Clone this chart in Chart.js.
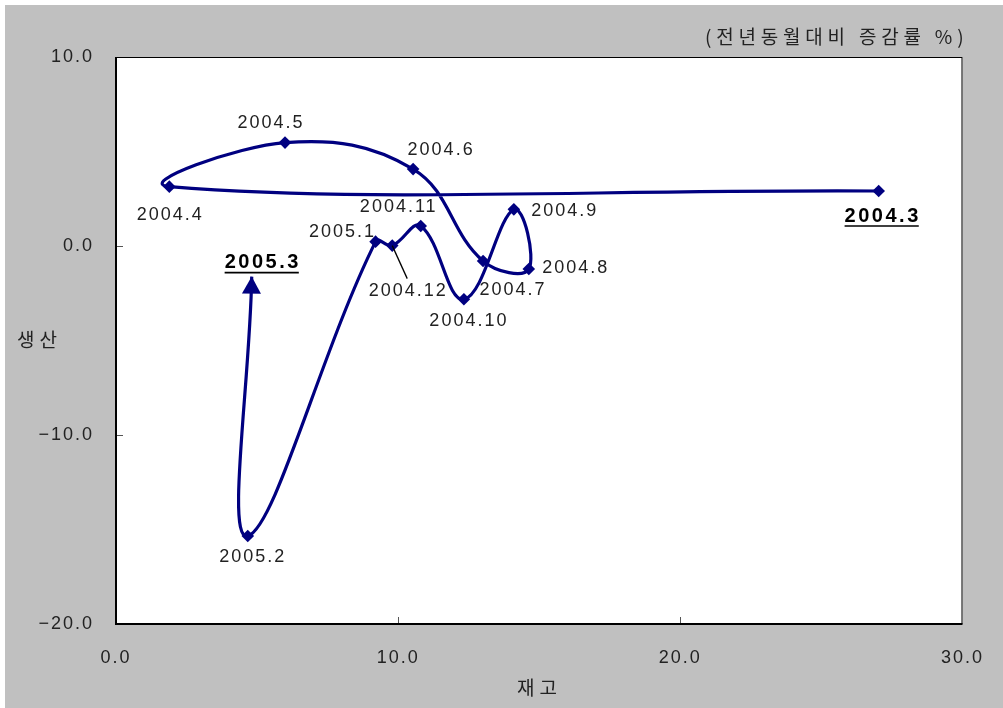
<!DOCTYPE html>
<html><head><meta charset="utf-8">
<script src="https://cdn.jsdelivr.net/npm/chart.js@4"></script>
<style>html,body{margin:0;padding:0;background:#fff}canvas{display:block}</style>
</head><body>
<canvas id="c" width="1003" height="708"></canvas>
<script>
// ---- data ----
const months     = ['2004.3','2004.4','2004.5','2004.6','2004.7','2004.8','2004.9','2004.10','2004.11','2004.12','2005.1','2005.2','2005.3'];
const inventory  = [27.03, 1.89, 5.99, 10.53, 13.01, 14.63, 14.10, 12.33, 10.80, 9.79, 9.20, 4.67, 4.81];
const production = [2.91, 3.14, 5.47, 4.07, -0.79, -1.22, 1.94, -2.82, 1.06, 0.02, 0.23, -15.34, -1.62];
const xTickValues = [0, 10, 20, 30];
const yTickValues = [-20, -10, 0, 10];
const xTitle = '재고';
const yTitle = '생산';
const unitNote = '(전년동월대비 증감률 %)';

// ---- styles ----
const NAVY = '#000080';
const LS = '2px';
const NUM_FONT = '18px "Liberation Sans", Arial, sans-serif';
const BOLD_FONT = 'bold 20px "Liberation Sans", Arial, sans-serif';
const KR_FONT = '19px "Noto Sans CJK KR", sans-serif';
// label offsets relative to each point (dx, dy of text centre)
const labelStyle = {
  '2004.3': {dx: 3, dy: 25, bold: true},
  '2004.4': {dx: 0, dy: 28},
  '2004.5': {dx: -15, dy: -20},
  '2004.6': {dx: 27, dy: -19},
  '2004.7': {dx: 29, dy: 29},
  '2004.8': {dx: 46, dy: -1},
  '2004.9': {dx: 50, dy: 2},
  '2004.10': {dx: 4, dy: 22},
  '2004.11': {dx: -23, dy: -19},
  '2004.12': {dx: 15, dy: 45, leader: true},
  '2005.1': {dx: -34, dy: -10},
  '2005.2': {dx: 4, dy: 21},
  '2005.3': {dx: 10, dy: -14, bold: true}
};

const points = months.map((m, i) => ({x: inventory[i], y: production[i]}));

const bgPlugin = {
  id: 'bg',
  beforeDraw(chart) {
    const ctx = chart.ctx;
    const {left, top, right, bottom} = chart.chartArea;
    ctx.save();
    ctx.fillStyle = '#fff';
    ctx.fillRect(0, 0, chart.width, chart.height);
    ctx.fillStyle = '#c0c0c0';
    ctx.fillRect(5, 5, chart.width - 5, chart.height - 5);
    ctx.fillStyle = '#fff';
    ctx.fillRect(left, top, right - left, bottom - top);
    ctx.restore();
    ctx.letterSpacing = LS;
  },
  afterDatasetsDraw(chart) {
    const ctx = chart.ctx;
    const meta = chart.getDatasetMeta(0);
    const pts = meta.data;
    // arrow at the last point
    const last = pts[pts.length - 1];
    const prev = pts[pts.length - 2];
    let bx = last.cp1x, by = last.cp1y;
    if (bx === undefined || (Math.abs(bx - last.x) < 0.5 && Math.abs(by - last.y) < 0.5)) { bx = prev.x; by = prev.y; }
    let dx = last.x - bx, dy = last.y - by;
    const len = Math.hypot(dx, dy) || 1; dx /= len; dy /= len;
    const L = 17, W = 9.5;
    ctx.save();
    ctx.fillStyle = NAVY;
    ctx.beginPath();
    ctx.moveTo(last.x, last.y);
    ctx.lineTo(last.x - dx * L - dy * W, last.y - dy * L + dx * W);
    ctx.lineTo(last.x - dx * L + dy * W, last.y - dy * L - dx * W);
    ctx.closePath();
    ctx.fill();
    ctx.restore();

    // labels
    ctx.save();
    ctx.textAlign = 'center';
    ctx.textBaseline = 'middle';
    pts.forEach((p, i) => {
      const st = labelStyle[months[i]];
      const tx = p.x + st.dx, ty = p.y + st.dy;
      ctx.letterSpacing = st.bold ? '2.5px' : LS;
      ctx.font = st.bold ? BOLD_FONT : NUM_FONT;
      ctx.fillStyle = st.bold ? '#000' : '#222';
      ctx.fillText(months[i], tx + 1, ty);
      if (st.bold) {
        const w = ctx.measureText(months[i]).width - 2;
        ctx.strokeStyle = '#000';
        ctx.lineWidth = 1.6;
        ctx.beginPath();
        ctx.moveTo(tx - w / 2, ty + 10);
        ctx.lineTo(tx + w / 2, ty + 10);
        ctx.stroke();
      }
      if (st.leader) {
        ctx.strokeStyle = '#000';
        ctx.lineWidth = 1.3;
        ctx.beginPath();
        ctx.moveTo(p.x, p.y);
        ctx.lineTo(p.x + st.dx, p.y + st.dy - 12);
        ctx.stroke();
      }
    });
    ctx.restore();
  },
  afterDraw(chart) {
    const ctx = chart.ctx;
    const {left, top, right, bottom} = chart.chartArea;
    const xs = chart.scales.x, ys = chart.scales.y;
    ctx.save();
    // frame
    ctx.strokeStyle = '#000';
    ctx.lineWidth = 1;
    ctx.strokeRect(left + 0.5, top + 0.5, right - left - 1, bottom - top - 1);
    ctx.lineWidth = 2;
    ctx.beginPath();
    ctx.moveTo(left, top); ctx.lineTo(left, bottom); ctx.lineTo(right, bottom);
    ctx.stroke();
    // inner ticks
    ctx.strokeStyle = '#555';
    ctx.lineWidth = 1;
    xTickValues.slice(1, -1).forEach(v => {
      const x = Math.round(xs.getPixelForValue(v)) + 0.5;
      ctx.beginPath(); ctx.moveTo(x, bottom - 1); ctx.lineTo(x, bottom - 7); ctx.stroke();
    });
    yTickValues.slice(1, -1).forEach(v => {
      const y = Math.round(ys.getPixelForValue(v)) + 0.5;
      ctx.beginPath(); ctx.moveTo(left + 1, y); ctx.lineTo(left + 7, y); ctx.stroke();
    });
    // titles
    ctx.letterSpacing = '4.8px';
    ctx.font = KR_FONT;
    ctx.fillStyle = '#222';
    ctx.textBaseline = 'middle';
    ctx.textAlign = 'left';
    ctx.fillText(unitNote, 705, 37);
    ctx.letterSpacing = '5px';
    ctx.fillText(yTitle, 17, 340);
    ctx.textAlign = 'left';
    ctx.fillText(xTitle, 517, 688);
    ctx.restore();
  }
};

new Chart(document.getElementById('c'), {
  type: 'scatter',
  data: {
    datasets: [{
      data: points,
      showLine: true,
      tension: 0.4,
      borderColor: NAVY,
      borderWidth: 3.2,
      backgroundColor: NAVY,
      pointBackgroundColor: NAVY,
      pointBorderColor: NAVY,
      pointStyle: 'rectRot',
      pointRadius: months.map((m, i) => i === months.length - 1 ? 0 : 6.3),
      pointBorderWidth: 0,
      pointHoverRadius: 0
    }]
  },
  options: {
    responsive: false,
    animation: false,
    devicePixelRatio: 1,
    events: [],
    layout: {padding: {left: 0, top: 57, right: 40, bottom: 0}},
    plugins: {legend: {display: false}, tooltip: {enabled: false}},
    scales: {
      x: {
        type: 'linear', min: 0, max: 30,
        afterBuildTicks: s => { s.ticks = xTickValues.map(v => ({value: v})); },
        afterFit: s => { s.height = 84; },
        grid: {display: false, drawTicks: false},
        border: {display: false},
        ticks: {
          padding: 23,
          color: '#222',
          font: {family: '"Liberation Sans", Arial, sans-serif', size: 18},
          callback: v => v.toFixed(1)
        }
      },
      y: {
        type: 'linear', min: -20, max: 10,
        afterBuildTicks: s => { s.ticks = yTickValues.map(v => ({value: v})); },
        afterFit: s => { s.width = 116; },
        grid: {display: false, drawTicks: false},
        border: {display: false},
        ticks: {
          padding: 22,
          color: '#222',
          font: {family: '"Liberation Sans", Arial, sans-serif', size: 18},
          callback: v => (v < 0 ? '\u2212' + Math.abs(v).toFixed(1) : v.toFixed(1))
        }
      }
    }
  },
  plugins: [bgPlugin]
});
</script>
</body></html>
